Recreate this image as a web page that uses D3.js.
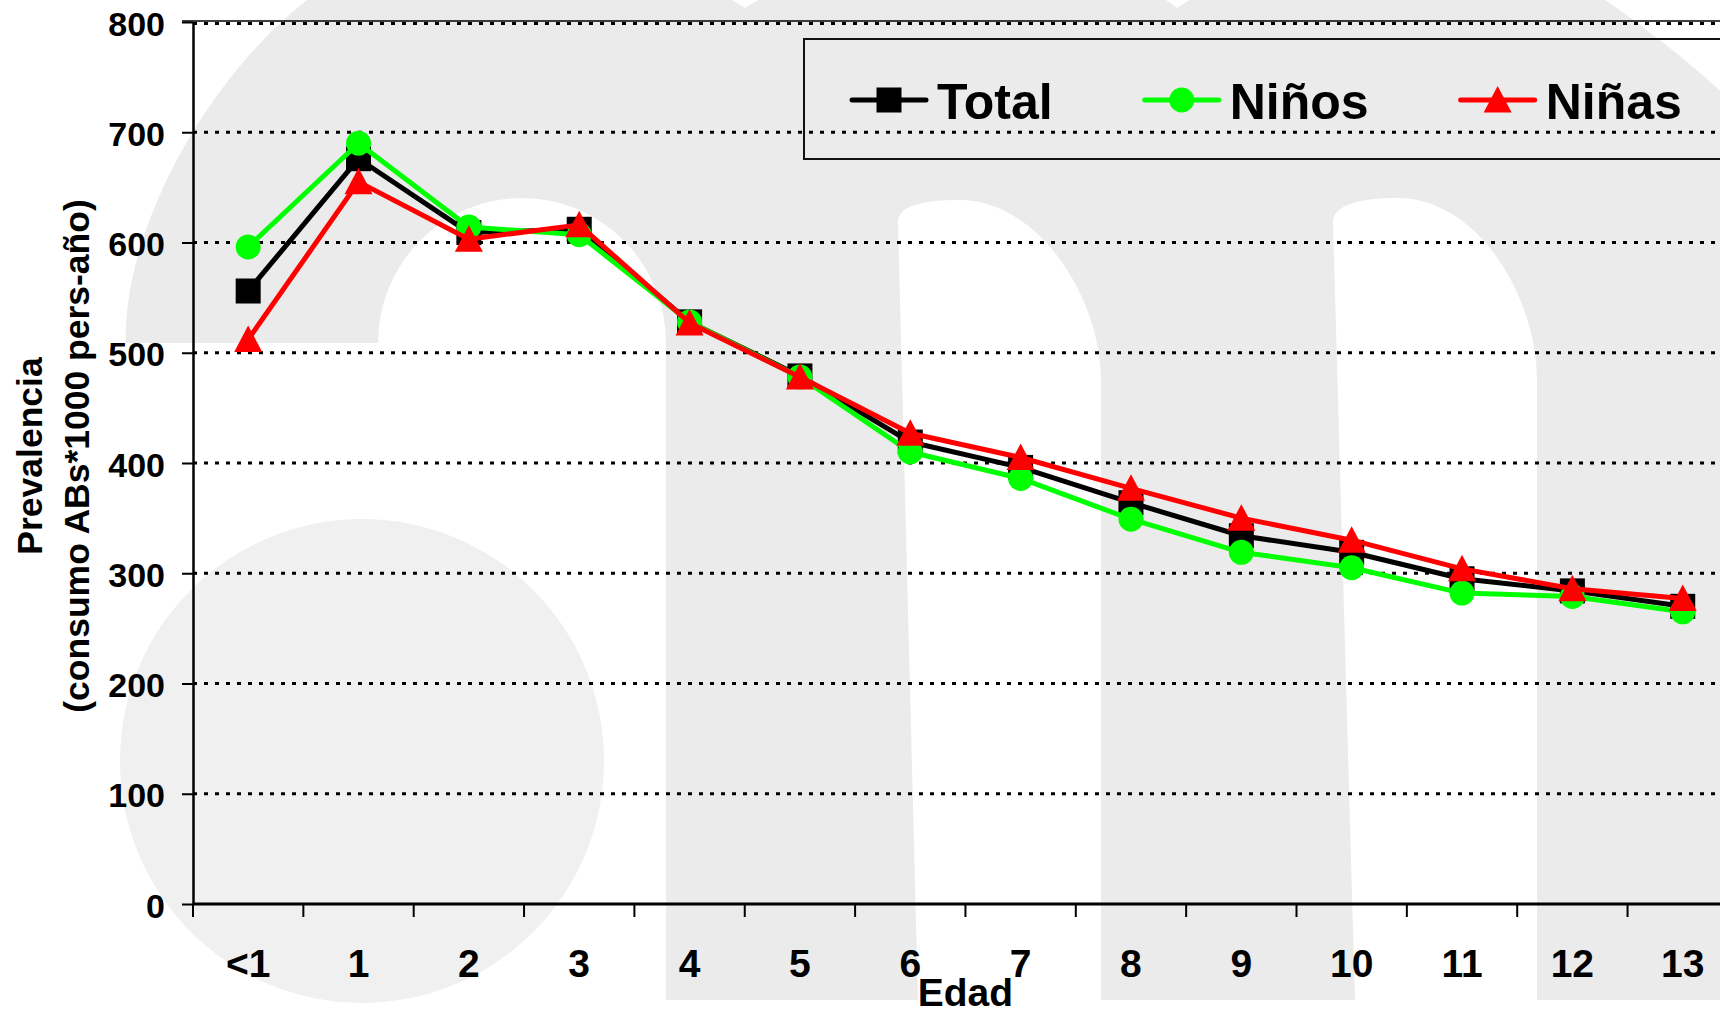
<!DOCTYPE html>
<html>
<head>
<meta charset="utf-8">
<script src="https://cdn.jsdelivr.net/npm/d3@7/dist/d3.min.js"></script>
<style>
  html, body { margin: 0; padding: 0; background: #fff; }
  svg { display: block; }
  text { font-family: "Liberation Sans", Arial, Helvetica, sans-serif; font-weight: bold; fill: #000; }
</style>
</head>
<body>
<svg id="chart" width="1720" height="1015"></svg>
<script>
// ---- data ----
const categories = ["<1", "1", "2", "3", "4", "5", "6", "7", "8", "9", "10", "11", "12", "13"];
const total = [556, 676, 609, 612, 528, 479, 419, 396, 364, 334, 319, 295, 284, 270];
const ninos = [596, 690, 614, 607, 528, 478, 410, 386, 349, 319, 305, 282, 279, 265];
const ninas = [512, 655, 603, 616, 527, 478, 427, 405, 377, 350, 330, 304, 286, 277];
const yTicks = [0, 100, 200, 300, 400, 500, 600, 700, 800];
const seriesNames = ["Total", "Niños", "Niñas"];
const xTitle = "Edad";
const yTitle1 = "Prevalencia";
const yTitle2 = "(consumo ABs*1000 pers-año)";

// ---- layout ----
const W = 1720, H = 1015;
const plotLeft = 193, plotTop = 22, plotBottom = 904;
const band = 110.35;
const svg = d3.select("#chart");

// background watermark (decorative)
const wm = svg.append("g");
wm.append("circle").attr("cx", 362).attr("cy", 761).attr("r", 242).attr("fill", "#f0f0f0");
wm.append("path").attr("fill", "#ebebeb").attr("d",
  "M126,343 C120,190 290,-70 470,-60 C620,-60 700,-20 745,8 " +
  "C790,-20 860,-60 960,-60 C1070,-60 1140,-20 1177,8 " +
  "C1220,-20 1300,-60 1420,-60 C1520,-60 1580,-20 1640,25 C1680,55 1710,80 1740,110 " +
  "L1740,1000 L1537,1000 L1537,380 C1537,300 1480,198 1397,198 C1360,198 1333,205 1333,222 L1355,1000 " +
  "L1101,1000 L1101,380 C1101,300 1040,200 959,200 C925,200 898,205 898,222 L918,1000 " +
  "L666,1000 L666,343 A144,145 0 0 0 378,343 L126,343 Z");

// scales
const x = d3.scaleBand().domain(categories).range([plotLeft, plotLeft + band * categories.length]).padding(0);
const y = d3.scaleLinear().domain([0, 800]).range([plotBottom, plotTop]);
const cx = c => x(c) + x.bandwidth() / 2;

// gridlines
svg.append("g").selectAll("line").data(yTicks.filter(v => v > 0)).join("line")
  .attr("x1", plotLeft).attr("x2", plotLeft + band * categories.length)
  .attr("y1", d => y(d) + (d === 800 ? 1.5 : 0)).attr("y2", d => y(d) + (d === 800 ? 1.5 : 0))
  .attr("stroke", "#000").attr("stroke-width", 3).attr("stroke-dasharray", "4,7");
// top border
svg.append("line").attr("x1", plotLeft - 11).attr("x2", W).attr("y1", y(800) - 1).attr("y2", y(800) - 1)
  .attr("stroke", "#000").attr("stroke-width", 1.5);

// y axis
const yAxis = d3.axisLeft(y).tickValues(yTicks).tickSize(11).tickPadding(17).tickSizeOuter(0);
const gy = svg.append("g").attr("transform", `translate(${plotLeft},0)`).call(yAxis);
gy.select(".domain").attr("stroke", "#000").attr("stroke-width", 2.5);
gy.selectAll(".tick line").attr("stroke", "#000").attr("stroke-width", 2);
gy.selectAll(".tick text").attr("font-size", 34).attr("dy", null).attr("y", 13)
  .style("font-family", '"Liberation Sans", Arial, sans-serif').style("font-weight", "bold").attr("fill", "#000");

// x axis
const gx = svg.append("g").attr("transform", `translate(0,${plotBottom})`);
gx.append("line").attr("x1", plotLeft).attr("x2", W).attr("y1", 0).attr("y2", 0)
  .attr("stroke", "#000").attr("stroke-width", 3);
gx.selectAll("line.tk").data(categories).join("line").attr("class", "tk")
  .attr("x1", d => x(d)).attr("x2", d => x(d)).attr("y1", 0).attr("y2", 13)
  .attr("stroke", "#000").attr("stroke-width", 2);
gx.selectAll("text.lb").data(categories).join("text").attr("class", "lb")
  .attr("x", d => cx(d)).attr("y", 73).attr("text-anchor", "middle").attr("font-size", 39).text(d => d);

// titles
svg.append("text").attr("x", plotLeft + band * categories.length / 2).attr("y", 1006)
  .attr("text-anchor", "middle").attr("font-size", 39).text(xTitle);
const ty = svg.append("g").attr("transform", "translate(0,456) rotate(-90)");
ty.append("text").attr("x", 0).attr("y", 42).attr("text-anchor", "middle").attr("font-size", 35.5).text(yTitle1);
ty.append("text").attr("x", 0).attr("y", 89).attr("text-anchor", "middle").attr("font-size", 35.5).text(yTitle2);

// series
const symbols = {
  square: g => g.append("rect").attr("x", -12.5).attr("y", -12.5).attr("width", 25).attr("height", 25),
  circle: g => g.append("circle").attr("r", 12.5),
  triangle: g => g.append("path").attr("d", "M0,-14 L14,12.5 L-14,12.5 Z")
};
const series = [
  { name: seriesNames[0], values: total, color: "#000000", sym: "square" },
  { name: seriesNames[1], values: ninos, color: "#00ff00", sym: "circle" },
  { name: seriesNames[2], values: ninas, color: "#ff0000", sym: "triangle" }
];
const line = d3.line().x(d => cx(d.c)).y(d => y(d.v));
series.forEach(s => {
  const pts = categories.map((c, i) => ({ c, v: s.values[i] }));
  svg.append("path").datum(pts).attr("d", line).attr("fill", "none")
    .attr("stroke", s.color).attr("stroke-width", 5).attr("stroke-linejoin", "round");
  pts.forEach(p => {
    const g = svg.append("g").attr("transform", `translate(${cx(p.c)},${y(p.v)})`).attr("fill", s.color);
    symbols[s.sym](g);
  });
});

// legend
svg.append("rect").attr("x", 804).attr("y", 39).attr("width", 1000).attr("height", 120)
  .attr("fill", "none").attr("stroke", "#111").attr("stroke-width", 2);
let lx = 852;
series.forEach(s => {
  const g = svg.append("g");
  g.append("line").attr("x1", lx).attr("x2", lx + 74).attr("y1", 100).attr("y2", 100)
    .attr("stroke", s.color).attr("stroke-width", 5).attr("stroke-linecap", "round");
  const m = g.append("g").attr("transform", `translate(${lx + 37},100)`).attr("fill", s.color);
  symbols[s.sym](m);
  const t = g.append("text").attr("x", lx + 85).attr("y", 119).attr("font-size", 50).text(s.name);
  lx += 85 + t.node().getComputedTextLength() + 92;
});
</script>
</body>
</html>
